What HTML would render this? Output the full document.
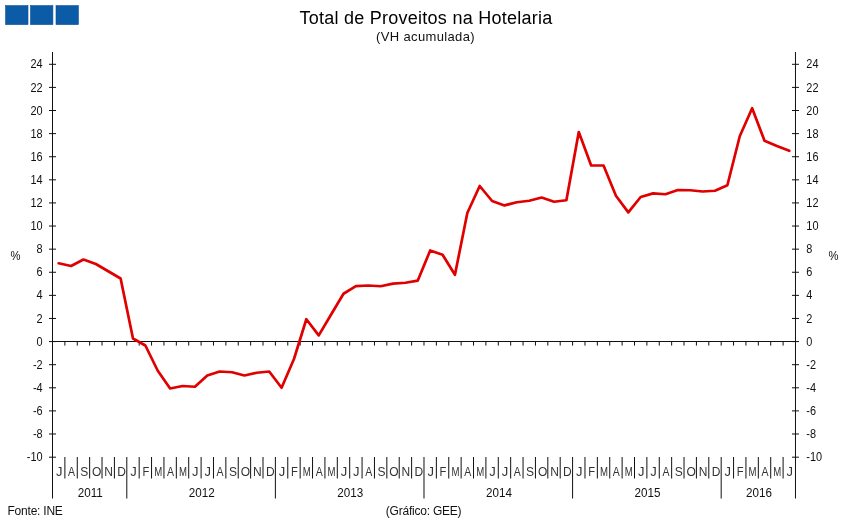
<!DOCTYPE html>
<html lang="pt"><head><meta charset="utf-8"><title>Total de Proveitos na Hotelaria</title>
<style>
html,body{margin:0;padding:0;background:#fff;}
body{width:850px;height:524px;overflow:hidden;font-family:"Liberation Sans",Arial,sans-serif;}
svg{display:block}
text{font-family:"Liberation Sans",Arial,sans-serif;fill:#111}
.t{font-size:18px;letter-spacing:0.25px;fill:#000}
.s{font-size:13px;letter-spacing:0.35px}
.y{font-size:12.5px}
.m{font-size:12px;fill:#333}
.yr{font-size:12.3px}
.f{font-size:12px;letter-spacing:-0.22px}
</style></head><body>
<svg width="850" height="524" viewBox="0 0 850 524">
<rect width="850" height="524" fill="#fff"/>

<rect x="5.6" y="5.6" width="22.4" height="19" fill="#0b5ba7" stroke="#0a4f95" stroke-width="0.6"/>
<rect x="30.5" y="5.6" width="22.4" height="19" fill="#0b5ba7" stroke="#0a4f95" stroke-width="0.6"/>
<rect x="56" y="5.6" width="22.4" height="19" fill="#0b5ba7" stroke="#0a4f95" stroke-width="0.6"/>
<text class="t" x="426" y="23.5" text-anchor="middle">Total de Proveitos na Hotelaria</text>
<text class="s" x="425.5" y="41" text-anchor="middle">(VH acumulada)</text>
<g stroke="#111" stroke-width="1" fill="none">
<line x1="52.5" y1="52" x2="52.5" y2="498.5"/>
<line x1="795.48" y1="52" x2="795.48" y2="498.5"/>
<line x1="52.5" y1="341.5" x2="795.48" y2="341.5"/>
<line x1="49" y1="457.2" x2="56" y2="457.2"/>
<line x1="791.98" y1="457.2" x2="798.98" y2="457.2"/>
<line x1="49" y1="433.996" x2="56" y2="433.996"/>
<line x1="791.98" y1="433.996" x2="798.98" y2="433.996"/>
<line x1="49" y1="410.89" x2="56" y2="410.89"/>
<line x1="791.98" y1="410.89" x2="798.98" y2="410.89"/>
<line x1="49" y1="387.784" x2="56" y2="387.784"/>
<line x1="791.98" y1="387.784" x2="798.98" y2="387.784"/>
<line x1="49" y1="364.678" x2="56" y2="364.678"/>
<line x1="791.98" y1="364.678" x2="798.98" y2="364.678"/>
<line x1="49" y1="341.572" x2="56" y2="341.572"/>
<line x1="791.98" y1="341.572" x2="798.98" y2="341.572"/>
<line x1="49" y1="318.466" x2="56" y2="318.466"/>
<line x1="791.98" y1="318.466" x2="798.98" y2="318.466"/>
<line x1="49" y1="295.36" x2="56" y2="295.36"/>
<line x1="791.98" y1="295.36" x2="798.98" y2="295.36"/>
<line x1="49" y1="272.254" x2="56" y2="272.254"/>
<line x1="791.98" y1="272.254" x2="798.98" y2="272.254"/>
<line x1="49" y1="249.148" x2="56" y2="249.148"/>
<line x1="791.98" y1="249.148" x2="798.98" y2="249.148"/>
<line x1="49" y1="226.042" x2="56" y2="226.042"/>
<line x1="791.98" y1="226.042" x2="798.98" y2="226.042"/>
<line x1="49" y1="202.936" x2="56" y2="202.936"/>
<line x1="791.98" y1="202.936" x2="798.98" y2="202.936"/>
<line x1="49" y1="179.83" x2="56" y2="179.83"/>
<line x1="791.98" y1="179.83" x2="798.98" y2="179.83"/>
<line x1="49" y1="156.724" x2="56" y2="156.724"/>
<line x1="791.98" y1="156.724" x2="798.98" y2="156.724"/>
<line x1="49" y1="133.618" x2="56" y2="133.618"/>
<line x1="791.98" y1="133.618" x2="798.98" y2="133.618"/>
<line x1="49" y1="110.512" x2="56" y2="110.512"/>
<line x1="791.98" y1="110.512" x2="798.98" y2="110.512"/>
<line x1="49" y1="87.406" x2="56" y2="87.406"/>
<line x1="791.98" y1="87.406" x2="798.98" y2="87.406"/>
<line x1="49" y1="64.3" x2="56" y2="64.3"/>
<line x1="791.98" y1="64.3" x2="798.98" y2="64.3"/>
<line x1="64.88" y1="341.5" x2="64.88" y2="345.6"/>
<line x1="64.88" y1="457" x2="64.88" y2="478.5"/>
<line x1="77.27" y1="341.5" x2="77.27" y2="345.6"/>
<line x1="77.27" y1="457" x2="77.27" y2="478.5"/>
<line x1="89.65" y1="341.5" x2="89.65" y2="345.6"/>
<line x1="89.65" y1="457" x2="89.65" y2="478.5"/>
<line x1="102.03" y1="341.5" x2="102.03" y2="345.6"/>
<line x1="102.03" y1="457" x2="102.03" y2="478.5"/>
<line x1="114.41" y1="341.5" x2="114.41" y2="345.6"/>
<line x1="114.41" y1="457" x2="114.41" y2="478.5"/>
<line x1="126.80" y1="341.5" x2="126.80" y2="345.6"/>
<line x1="126.80" y1="457" x2="126.80" y2="498.5"/>
<line x1="139.18" y1="341.5" x2="139.18" y2="345.6"/>
<line x1="139.18" y1="457" x2="139.18" y2="478.5"/>
<line x1="151.56" y1="341.5" x2="151.56" y2="345.6"/>
<line x1="151.56" y1="457" x2="151.56" y2="478.5"/>
<line x1="163.95" y1="341.5" x2="163.95" y2="345.6"/>
<line x1="163.95" y1="457" x2="163.95" y2="478.5"/>
<line x1="176.33" y1="341.5" x2="176.33" y2="345.6"/>
<line x1="176.33" y1="457" x2="176.33" y2="478.5"/>
<line x1="188.71" y1="341.5" x2="188.71" y2="345.6"/>
<line x1="188.71" y1="457" x2="188.71" y2="478.5"/>
<line x1="201.10" y1="341.5" x2="201.10" y2="345.6"/>
<line x1="201.10" y1="457" x2="201.10" y2="478.5"/>
<line x1="213.48" y1="341.5" x2="213.48" y2="345.6"/>
<line x1="213.48" y1="457" x2="213.48" y2="478.5"/>
<line x1="225.86" y1="341.5" x2="225.86" y2="345.6"/>
<line x1="225.86" y1="457" x2="225.86" y2="478.5"/>
<line x1="238.24" y1="341.5" x2="238.24" y2="345.6"/>
<line x1="238.24" y1="457" x2="238.24" y2="478.5"/>
<line x1="250.63" y1="341.5" x2="250.63" y2="345.6"/>
<line x1="250.63" y1="457" x2="250.63" y2="478.5"/>
<line x1="263.01" y1="341.5" x2="263.01" y2="345.6"/>
<line x1="263.01" y1="457" x2="263.01" y2="478.5"/>
<line x1="275.39" y1="341.5" x2="275.39" y2="345.6"/>
<line x1="275.39" y1="457" x2="275.39" y2="498.5"/>
<line x1="287.78" y1="341.5" x2="287.78" y2="345.6"/>
<line x1="287.78" y1="457" x2="287.78" y2="478.5"/>
<line x1="300.16" y1="341.5" x2="300.16" y2="345.6"/>
<line x1="300.16" y1="457" x2="300.16" y2="478.5"/>
<line x1="312.54" y1="341.5" x2="312.54" y2="345.6"/>
<line x1="312.54" y1="457" x2="312.54" y2="478.5"/>
<line x1="324.93" y1="341.5" x2="324.93" y2="345.6"/>
<line x1="324.93" y1="457" x2="324.93" y2="478.5"/>
<line x1="337.31" y1="341.5" x2="337.31" y2="345.6"/>
<line x1="337.31" y1="457" x2="337.31" y2="478.5"/>
<line x1="349.69" y1="341.5" x2="349.69" y2="345.6"/>
<line x1="349.69" y1="457" x2="349.69" y2="478.5"/>
<line x1="362.07" y1="341.5" x2="362.07" y2="345.6"/>
<line x1="362.07" y1="457" x2="362.07" y2="478.5"/>
<line x1="374.46" y1="341.5" x2="374.46" y2="345.6"/>
<line x1="374.46" y1="457" x2="374.46" y2="478.5"/>
<line x1="386.84" y1="341.5" x2="386.84" y2="345.6"/>
<line x1="386.84" y1="457" x2="386.84" y2="478.5"/>
<line x1="399.22" y1="341.5" x2="399.22" y2="345.6"/>
<line x1="399.22" y1="457" x2="399.22" y2="478.5"/>
<line x1="411.61" y1="341.5" x2="411.61" y2="345.6"/>
<line x1="411.61" y1="457" x2="411.61" y2="478.5"/>
<line x1="423.99" y1="341.5" x2="423.99" y2="345.6"/>
<line x1="423.99" y1="457" x2="423.99" y2="498.5"/>
<line x1="436.37" y1="341.5" x2="436.37" y2="345.6"/>
<line x1="436.37" y1="457" x2="436.37" y2="478.5"/>
<line x1="448.76" y1="341.5" x2="448.76" y2="345.6"/>
<line x1="448.76" y1="457" x2="448.76" y2="478.5"/>
<line x1="461.14" y1="341.5" x2="461.14" y2="345.6"/>
<line x1="461.14" y1="457" x2="461.14" y2="478.5"/>
<line x1="473.52" y1="341.5" x2="473.52" y2="345.6"/>
<line x1="473.52" y1="457" x2="473.52" y2="478.5"/>
<line x1="485.90" y1="341.5" x2="485.90" y2="345.6"/>
<line x1="485.90" y1="457" x2="485.90" y2="478.5"/>
<line x1="498.29" y1="341.5" x2="498.29" y2="345.6"/>
<line x1="498.29" y1="457" x2="498.29" y2="478.5"/>
<line x1="510.67" y1="341.5" x2="510.67" y2="345.6"/>
<line x1="510.67" y1="457" x2="510.67" y2="478.5"/>
<line x1="523.05" y1="341.5" x2="523.05" y2="345.6"/>
<line x1="523.05" y1="457" x2="523.05" y2="478.5"/>
<line x1="535.44" y1="341.5" x2="535.44" y2="345.6"/>
<line x1="535.44" y1="457" x2="535.44" y2="478.5"/>
<line x1="547.82" y1="341.5" x2="547.82" y2="345.6"/>
<line x1="547.82" y1="457" x2="547.82" y2="478.5"/>
<line x1="560.20" y1="341.5" x2="560.20" y2="345.6"/>
<line x1="560.20" y1="457" x2="560.20" y2="478.5"/>
<line x1="572.59" y1="341.5" x2="572.59" y2="345.6"/>
<line x1="572.59" y1="457" x2="572.59" y2="498.5"/>
<line x1="584.97" y1="341.5" x2="584.97" y2="345.6"/>
<line x1="584.97" y1="457" x2="584.97" y2="478.5"/>
<line x1="597.35" y1="341.5" x2="597.35" y2="345.6"/>
<line x1="597.35" y1="457" x2="597.35" y2="478.5"/>
<line x1="609.74" y1="341.5" x2="609.74" y2="345.6"/>
<line x1="609.74" y1="457" x2="609.74" y2="478.5"/>
<line x1="622.12" y1="341.5" x2="622.12" y2="345.6"/>
<line x1="622.12" y1="457" x2="622.12" y2="478.5"/>
<line x1="634.50" y1="341.5" x2="634.50" y2="345.6"/>
<line x1="634.50" y1="457" x2="634.50" y2="478.5"/>
<line x1="646.88" y1="341.5" x2="646.88" y2="345.6"/>
<line x1="646.88" y1="457" x2="646.88" y2="478.5"/>
<line x1="659.27" y1="341.5" x2="659.27" y2="345.6"/>
<line x1="659.27" y1="457" x2="659.27" y2="478.5"/>
<line x1="671.65" y1="341.5" x2="671.65" y2="345.6"/>
<line x1="671.65" y1="457" x2="671.65" y2="478.5"/>
<line x1="684.03" y1="341.5" x2="684.03" y2="345.6"/>
<line x1="684.03" y1="457" x2="684.03" y2="478.5"/>
<line x1="696.42" y1="341.5" x2="696.42" y2="345.6"/>
<line x1="696.42" y1="457" x2="696.42" y2="478.5"/>
<line x1="708.80" y1="341.5" x2="708.80" y2="345.6"/>
<line x1="708.80" y1="457" x2="708.80" y2="478.5"/>
<line x1="721.18" y1="341.5" x2="721.18" y2="345.6"/>
<line x1="721.18" y1="457" x2="721.18" y2="498.5"/>
<line x1="733.56" y1="341.5" x2="733.56" y2="345.6"/>
<line x1="733.56" y1="457" x2="733.56" y2="478.5"/>
<line x1="745.95" y1="341.5" x2="745.95" y2="345.6"/>
<line x1="745.95" y1="457" x2="745.95" y2="478.5"/>
<line x1="758.33" y1="341.5" x2="758.33" y2="345.6"/>
<line x1="758.33" y1="457" x2="758.33" y2="478.5"/>
<line x1="770.71" y1="341.5" x2="770.71" y2="345.6"/>
<line x1="770.71" y1="457" x2="770.71" y2="478.5"/>
<line x1="783.10" y1="341.5" x2="783.10" y2="345.6"/>
<line x1="783.10" y1="457" x2="783.10" y2="478.5"/>
</g>
<text class="y" transform="translate(42.6,461.30) scale(0.875,1)" text-anchor="end">-10</text>
<text class="y" transform="translate(806.3,461.30) scale(0.875,1)">-10</text>
<text class="y" transform="translate(42.6,438.10) scale(0.875,1)" text-anchor="end">-8</text>
<text class="y" transform="translate(806.3,438.10) scale(0.875,1)">-8</text>
<text class="y" transform="translate(42.6,414.99) scale(0.875,1)" text-anchor="end">-6</text>
<text class="y" transform="translate(806.3,414.99) scale(0.875,1)">-6</text>
<text class="y" transform="translate(42.6,391.88) scale(0.875,1)" text-anchor="end">-4</text>
<text class="y" transform="translate(806.3,391.88) scale(0.875,1)">-4</text>
<text class="y" transform="translate(42.6,368.78) scale(0.875,1)" text-anchor="end">-2</text>
<text class="y" transform="translate(806.3,368.78) scale(0.875,1)">-2</text>
<text class="y" transform="translate(42.6,345.67) scale(0.875,1)" text-anchor="end">0</text>
<text class="y" transform="translate(806.3,345.67) scale(0.875,1)">0</text>
<text class="y" transform="translate(42.6,322.57) scale(0.875,1)" text-anchor="end">2</text>
<text class="y" transform="translate(806.3,322.57) scale(0.875,1)">2</text>
<text class="y" transform="translate(42.6,299.46) scale(0.875,1)" text-anchor="end">4</text>
<text class="y" transform="translate(806.3,299.46) scale(0.875,1)">4</text>
<text class="y" transform="translate(42.6,276.35) scale(0.875,1)" text-anchor="end">6</text>
<text class="y" transform="translate(806.3,276.35) scale(0.875,1)">6</text>
<text class="y" transform="translate(42.6,253.25) scale(0.875,1)" text-anchor="end">8</text>
<text class="y" transform="translate(806.3,253.25) scale(0.875,1)">8</text>
<text class="y" transform="translate(42.6,230.14) scale(0.875,1)" text-anchor="end">10</text>
<text class="y" transform="translate(806.3,230.14) scale(0.875,1)">10</text>
<text class="y" transform="translate(42.6,207.04) scale(0.875,1)" text-anchor="end">12</text>
<text class="y" transform="translate(806.3,207.04) scale(0.875,1)">12</text>
<text class="y" transform="translate(42.6,183.93) scale(0.875,1)" text-anchor="end">14</text>
<text class="y" transform="translate(806.3,183.93) scale(0.875,1)">14</text>
<text class="y" transform="translate(42.6,160.82) scale(0.875,1)" text-anchor="end">16</text>
<text class="y" transform="translate(806.3,160.82) scale(0.875,1)">16</text>
<text class="y" transform="translate(42.6,137.72) scale(0.875,1)" text-anchor="end">18</text>
<text class="y" transform="translate(806.3,137.72) scale(0.875,1)">18</text>
<text class="y" transform="translate(42.6,114.61) scale(0.875,1)" text-anchor="end">20</text>
<text class="y" transform="translate(806.3,114.61) scale(0.875,1)">20</text>
<text class="y" transform="translate(42.6,91.51) scale(0.875,1)" text-anchor="end">22</text>
<text class="y" transform="translate(806.3,91.51) scale(0.875,1)">22</text>
<text class="y" transform="translate(42.6,68.40) scale(0.875,1)" text-anchor="end">24</text>
<text class="y" transform="translate(806.3,68.40) scale(0.875,1)">24</text>
<text class="y" transform="translate(10.4,260) scale(0.9,1)">%</text>
<text class="y" transform="translate(828.4,260) scale(0.9,1)">%</text>
<text class="m" transform="translate(59.14,475.7) scale(1.08,1)" text-anchor="middle">J</text>
<text class="m" transform="translate(71.52,475.7) scale(0.88,1)" text-anchor="middle">A</text>
<text class="m" transform="translate(84.31,475.7) scale(1,1)" text-anchor="middle">S</text>
<text class="m" transform="translate(96.79,475.7) scale(1,1)" text-anchor="middle">O</text>
<text class="m" transform="translate(108.67,475.7) scale(1,1)" text-anchor="middle">N</text>
<text class="m" transform="translate(121.66,475.7) scale(1,1)" text-anchor="middle">D</text>
<text class="m" transform="translate(133.44,475.7) scale(1.08,1)" text-anchor="middle">J</text>
<text class="m" transform="translate(145.82,475.7) scale(0.93,1)" text-anchor="middle">F</text>
<text class="m" transform="translate(158.21,475.7) scale(0.8,1)" text-anchor="middle">M</text>
<text class="m" transform="translate(170.59,475.7) scale(0.88,1)" text-anchor="middle">A</text>
<text class="m" transform="translate(182.97,475.7) scale(0.8,1)" text-anchor="middle">M</text>
<text class="m" transform="translate(195.35,475.7) scale(1.08,1)" text-anchor="middle">J</text>
<text class="m" transform="translate(207.74,475.7) scale(1.08,1)" text-anchor="middle">J</text>
<text class="m" transform="translate(220.12,475.7) scale(0.88,1)" text-anchor="middle">A</text>
<text class="m" transform="translate(232.90,475.7) scale(1,1)" text-anchor="middle">S</text>
<text class="m" transform="translate(245.39,475.7) scale(1,1)" text-anchor="middle">O</text>
<text class="m" transform="translate(257.27,475.7) scale(1,1)" text-anchor="middle">N</text>
<text class="m" transform="translate(270.25,475.7) scale(1,1)" text-anchor="middle">D</text>
<text class="m" transform="translate(282.04,475.7) scale(1.08,1)" text-anchor="middle">J</text>
<text class="m" transform="translate(294.42,475.7) scale(0.93,1)" text-anchor="middle">F</text>
<text class="m" transform="translate(306.80,475.7) scale(0.8,1)" text-anchor="middle">M</text>
<text class="m" transform="translate(319.18,475.7) scale(0.88,1)" text-anchor="middle">A</text>
<text class="m" transform="translate(331.57,475.7) scale(0.8,1)" text-anchor="middle">M</text>
<text class="m" transform="translate(343.95,475.7) scale(1.08,1)" text-anchor="middle">J</text>
<text class="m" transform="translate(356.33,475.7) scale(1.08,1)" text-anchor="middle">J</text>
<text class="m" transform="translate(368.72,475.7) scale(0.88,1)" text-anchor="middle">A</text>
<text class="m" transform="translate(381.50,475.7) scale(1,1)" text-anchor="middle">S</text>
<text class="m" transform="translate(393.98,475.7) scale(1,1)" text-anchor="middle">O</text>
<text class="m" transform="translate(405.87,475.7) scale(1,1)" text-anchor="middle">N</text>
<text class="m" transform="translate(418.85,475.7) scale(1,1)" text-anchor="middle">D</text>
<text class="m" transform="translate(430.63,475.7) scale(1.08,1)" text-anchor="middle">J</text>
<text class="m" transform="translate(443.01,475.7) scale(0.93,1)" text-anchor="middle">F</text>
<text class="m" transform="translate(455.40,475.7) scale(0.8,1)" text-anchor="middle">M</text>
<text class="m" transform="translate(467.78,475.7) scale(0.88,1)" text-anchor="middle">A</text>
<text class="m" transform="translate(480.16,475.7) scale(0.8,1)" text-anchor="middle">M</text>
<text class="m" transform="translate(492.55,475.7) scale(1.08,1)" text-anchor="middle">J</text>
<text class="m" transform="translate(504.93,475.7) scale(1.08,1)" text-anchor="middle">J</text>
<text class="m" transform="translate(517.31,475.7) scale(0.88,1)" text-anchor="middle">A</text>
<text class="m" transform="translate(530.10,475.7) scale(1,1)" text-anchor="middle">S</text>
<text class="m" transform="translate(542.58,475.7) scale(1,1)" text-anchor="middle">O</text>
<text class="m" transform="translate(554.46,475.7) scale(1,1)" text-anchor="middle">N</text>
<text class="m" transform="translate(567.44,475.7) scale(1,1)" text-anchor="middle">D</text>
<text class="m" transform="translate(579.23,475.7) scale(1.08,1)" text-anchor="middle">J</text>
<text class="m" transform="translate(591.61,475.7) scale(0.93,1)" text-anchor="middle">F</text>
<text class="m" transform="translate(603.99,475.7) scale(0.8,1)" text-anchor="middle">M</text>
<text class="m" transform="translate(616.38,475.7) scale(0.88,1)" text-anchor="middle">A</text>
<text class="m" transform="translate(628.76,475.7) scale(0.8,1)" text-anchor="middle">M</text>
<text class="m" transform="translate(641.14,475.7) scale(1.08,1)" text-anchor="middle">J</text>
<text class="m" transform="translate(653.53,475.7) scale(1.08,1)" text-anchor="middle">J</text>
<text class="m" transform="translate(665.91,475.7) scale(0.88,1)" text-anchor="middle">A</text>
<text class="m" transform="translate(678.69,475.7) scale(1,1)" text-anchor="middle">S</text>
<text class="m" transform="translate(691.17,475.7) scale(1,1)" text-anchor="middle">O</text>
<text class="m" transform="translate(703.06,475.7) scale(1,1)" text-anchor="middle">N</text>
<text class="m" transform="translate(716.04,475.7) scale(1,1)" text-anchor="middle">D</text>
<text class="m" transform="translate(727.82,475.7) scale(1.08,1)" text-anchor="middle">J</text>
<text class="m" transform="translate(740.21,475.7) scale(0.93,1)" text-anchor="middle">F</text>
<text class="m" transform="translate(752.59,475.7) scale(0.8,1)" text-anchor="middle">M</text>
<text class="m" transform="translate(764.97,475.7) scale(0.88,1)" text-anchor="middle">A</text>
<text class="m" transform="translate(777.36,475.7) scale(0.8,1)" text-anchor="middle">M</text>
<text class="m" transform="translate(789.74,475.7) scale(1.08,1)" text-anchor="middle">J</text>
<text class="yr" transform="translate(90.25,497) scale(0.95,1)" text-anchor="middle">2011</text>
<text class="yr" transform="translate(201.70,497) scale(0.95,1)" text-anchor="middle">2012</text>
<text class="yr" transform="translate(350.29,497) scale(0.95,1)" text-anchor="middle">2013</text>
<text class="yr" transform="translate(498.89,497) scale(0.95,1)" text-anchor="middle">2014</text>
<text class="yr" transform="translate(647.48,497) scale(0.95,1)" text-anchor="middle">2015</text>
<text class="yr" transform="translate(758.93,497) scale(0.95,1)" text-anchor="middle">2016</text>
<text class="f" x="7.5" y="515">Fonte: INE</text>
<text class="f" x="423.6" y="515" text-anchor="middle">(Gráfico: GEE)</text>
<polyline points="58.69,263.25 71.07,266.00 83.46,259.50 95.84,264.00 108.22,271.25 120.61,278.50 132.99,338.50 145.37,345.50 157.76,370.75 170.14,388.50 182.52,386.00 194.90,386.75 207.29,375.50 219.67,371.50 232.05,372.25 244.44,375.50 256.82,372.75 269.20,371.50 281.59,387.75 293.97,359.00 306.35,319.25 318.73,335.40 331.12,314.50 343.50,293.75 355.88,286.10 368.27,285.50 380.65,286.25 393.03,283.60 405.42,282.75 417.80,280.60 430.18,250.50 442.56,254.75 454.95,274.75 467.33,213.00 479.71,186.00 492.10,201.00 504.48,205.40 516.86,202.25 529.25,200.75 541.63,197.50 554.01,201.75 566.39,200.25 578.78,132.00 591.16,165.50 603.54,165.50 615.93,195.75 628.31,212.40 640.69,197.00 653.08,193.40 665.46,194.25 677.84,190.00 690.22,190.25 702.61,191.50 714.99,190.75 727.37,185.25 739.76,136.25 752.14,108.25 764.52,140.75 776.91,146.00 789.29,150.75" fill="none" stroke="#e00000" stroke-width="2.7" stroke-linejoin="round" stroke-linecap="round"/>
</svg></body></html>
